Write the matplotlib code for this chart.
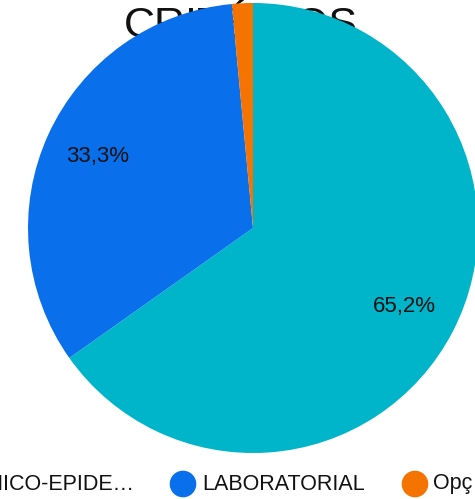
import matplotlib
matplotlib.use("Agg")
import matplotlib.pyplot as plt

# data
categories = ["CLÍNICO-EPIDEMIOLÓGICO", "LABORATORIAL", "Opção 3"]
values = [65.2, 33.3, 1.5]
pct_labels = ["65,2%", "33,3%", ""]
legend_labels = ["CLÍNICO-EPIDE…", "LABORATORIAL", "Opç"]
colors = ["#00b5c9", "#0a6fea", "#f57300"]
title = "CRITÉRIOS"

plt.rcParams["font.family"] = ["Liberation Sans", "DejaVu Sans"]

W, H = 475, 499
fig = plt.figure(figsize=(W / 100, H / 100), dpi=100)
ax = fig.add_axes([0, 0, 1, 1])

# pixel space, y measured from bottom
cx, cy, r = 253, H - 228, 225
wedges, texts = ax.pie(values, colors=colors, startangle=90, counterclock=False,
                       center=(cx, cy), radius=r, labels=pct_labels,
                       labeldistance=0.76, textprops={"fontsize": 16, "color": "#111111"},
                       wedgeprops={"linewidth": 0})
for t in texts:
    t.set_ha("center")
    t.set_va("center")
for w in wedges:
    w.set_zorder(2)

ax.set_xlim(0, W)
ax.set_ylim(0, H)
ax.set_aspect("auto")
ax.axis("off")

# title sits behind the pie
ax.text(241, H - 26, title, fontsize=31, ha="center", va="center",
        color="#111111", zorder=0)

# legend row along the bottom, cut at the edges
ly = H - 484
ax.text(135, ly, legend_labels[0], fontsize=15.5, ha="right", va="center", color="#111111")
ax.scatter([183, 415], [ly, ly], s=330, c=colors[1:], zorder=3, clip_on=False)
ax.text(202, ly, legend_labels[1], fontsize=15.5, ha="left", va="center", color="#111111")
ax.text(433, ly, legend_labels[2], fontsize=15.5, ha="left", va="center", color="#111111")

fig.savefig("out.png", dpi=100)
